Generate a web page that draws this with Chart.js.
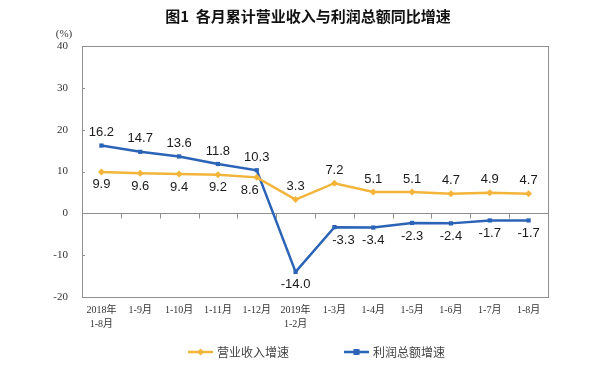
<!DOCTYPE html>
<html>
<head>
<meta charset="utf-8">
<script src="https://cdn.jsdelivr.net/npm/chart.js@4/dist/chart.umd.min.js"></script>
<style>
html,body{margin:0;padding:0;background:#fff;}
#wrap{width:600px;height:381px;}
</style>
</head>
<body>
<div id="wrap"><canvas id="c" width="600" height="381"></canvas></div>
<script>
// ---- data ----
const categories = [["2018年","1-8月"],"1-9月","1-10月","1-11月","1-12月",["2019年","1-2月"],"1-3月","1-4月","1-5月","1-6月","1-7月","1-8月"];
const revenueGrowth = [9.9, 9.6, 9.4, 9.2, 8.6, 3.3, 7.2, 5.1, 5.1, 4.7, 4.9, 4.7];
const profitGrowth  = [16.2, 14.7, 13.6, 11.8, 10.3, -14.0, -3.3, -3.4, -2.3, -2.4, -1.7, -1.7];
const seriesNames = ["营业收入增速", "利润总额增速"];
const yTicks = [-20, -10, 0, 10, 20, 30, 40];
const titleText = "图1  各月累计营业收入与利润总额同比增速";
const unitText = "(%)";

// style: small horizontal nudges of a few value labels (dataset-index: px)
const labelNudge = {"0-4": -7, "1-6": 9};

const ORANGE = "#F3B43A";
const BLUE = "#2B63B6";
const AXIS = "#8f8f8f";
const TXT = "#333333";

// frame, inner ticks, unit label
const framePlugin = {
  id: "framePlugin",
  afterDraw(chart) {
    const {ctx, chartArea: a, scales} = chart;
    ctx.save();
    ctx.strokeStyle = AXIS;
    ctx.lineWidth = 1;
    ctx.beginPath();
    ctx.moveTo(a.left, a.top + 0.5);
    ctx.lineTo(a.right, a.top + 0.5);
    // y ticks pointing inward
    yTicks.forEach(v => {
      if (v === yTicks[0] || v === yTicks[yTicks.length - 1]) return;
      const y = Math.round(scales.y.getPixelForValue(v)) + 0.5;
      ctx.moveTo(a.left, y);
      ctx.lineTo(a.left + 3, y);
    });
    // ticks on zero line at category boundaries
    const xs = scales.x, y0 = Math.round(scales.y.getPixelForValue(0)) + 0.5;
    const half = (xs.getPixelForValue(1) - xs.getPixelForValue(0)) / 2;
    for (let i = 1; i < categories.length; i++) {
      const x = Math.round(xs.getPixelForValue(i) - half) + 0.5;
      ctx.moveTo(x, y0);
      ctx.lineTo(x, y0 + 5);
    }
    ctx.stroke();
    // unit
    ctx.fillStyle = TXT;
    ctx.font = "11px 'Liberation Serif','Noto Sans CJK SC'";
    ctx.textAlign = "center";
    ctx.textBaseline = "middle";
    ctx.fillText(unitText, a.left - 18, a.top - 12);
    ctx.restore();
  }
};

// value labels
const labelPlugin = {
  id: "labelPlugin",
  afterDatasetsDraw(chart) {
    const {ctx} = chart;
    ctx.save();
    ctx.font = "13px 'Liberation Sans', Arial, sans-serif";
    ctx.fillStyle = "#1a1a1a";
    ctx.textAlign = "center";
    ctx.textBaseline = "middle";
    chart.data.datasets.forEach((ds, di) => {
      const other = chart.data.datasets[1 - di].data;
      const meta = chart.getDatasetMeta(di);
      meta.data.forEach((pt, i) => {
        const v = ds.data[i];
        const above = v >= other[i];
        const y = pt.y + (above ? -13 : 13);
        const dx = labelNudge[di + "-" + i] || 0;
        ctx.fillText(v.toFixed(1), pt.x + dx, y);
      });
    });
    ctx.restore();
  }
};

// legend drawn with the datasets' own styles
const legendPlugin = {
  id: "legendPlugin",
  afterDraw(chart) {
    const {ctx} = chart;
    const starts = [188, 344];
    const yc = 352;
    ctx.save();
    ctx.font = "12px 'Noto Sans CJK SC', sans-serif";
    ctx.textBaseline = "middle";
    ctx.textAlign = "left";
    chart.data.datasets.forEach((ds, i) => {
      const x0 = starts[i];
      ctx.strokeStyle = ds.borderColor;
      ctx.lineWidth = 2.5;
      ctx.beginPath();
      ctx.moveTo(x0, yc);
      ctx.lineTo(x0 + 25, yc);
      ctx.stroke();
      ctx.fillStyle = ds.borderColor;
      const cx = x0 + 12.5;
      ctx.beginPath();
      if (ds.pointStyle === "rectRot") {
        ctx.moveTo(cx, yc - 3.5); ctx.lineTo(cx + 3.5, yc); ctx.lineTo(cx, yc + 3.5); ctx.lineTo(cx - 3.5, yc);
      } else {
        ctx.rect(cx - 3, yc - 3, 6, 6);
      }
      ctx.closePath();
      ctx.fill();
      ctx.fillStyle = "#444";
      ctx.fillText(ds.label, x0 + 29, yc);
    });
    ctx.restore();
  }
};

new Chart(document.getElementById("c"), {
  type: "line",
  data: {
    labels: categories,
    datasets: [
      {
        label: seriesNames[0], data: revenueGrowth,
        borderColor: ORANGE, backgroundColor: ORANGE, borderWidth: 2.5,
        pointStyle: "rectRot", pointRadius: 3.5, pointBorderWidth: 0, tension: 0
      },
      {
        label: seriesNames[1], data: profitGrowth,
        borderColor: BLUE, backgroundColor: BLUE, borderWidth: 2.5,
        pointStyle: "rect", pointRadius: 3, pointBorderWidth: 0, tension: 0
      }
    ]
  },
  options: {
    responsive: false,
    animation: false,
    devicePixelRatio: 1,
    layout: {padding: {left: 16, right: 0, top: 0, bottom: 44}},
    plugins: {
      legend: {display: false},
      tooltip: {enabled: false},
      title: {
        display: true, text: titleText, color: "#111",
        font: {size: 15, weight: "bold", family: "'Noto Sans CJK SC', sans-serif"},
        padding: {top: 7, bottom: 21}
      }
    },
    scales: {
      x: {
        offset: true,
        grid: {display: false, drawTicks: false},
        border: {color: AXIS},
        ticks: {color: TXT, padding: 7, maxRotation: 0, autoSkip: false,
          font: {size: 10, family: "'Liberation Serif','Noto Sans CJK SC'", lineHeight: 1.35}},
        afterFit(s) { s.height = 40; }
      },
      y: {
        min: -20, max: 40,
        afterBuildTicks(s) { s.ticks = yTicks.map(v => ({value: v})); },
        grid: {
          color: c => (c.tick && c.tick.value === 0) ? AXIS : "rgba(0,0,0,0)",
          drawTicks: false
        },
        border: {color: AXIS},
        ticks: {color: TXT, padding: 14, font: {size: 11, family: "'Liberation Serif', serif"}},
        afterFit(s) { s.width = 66; }
      },
      yR: {
        position: "right", display: true,
        grid: {display: false, drawTicks: false},
        border: {display: true, color: AXIS},
        ticks: {display: false},
        afterFit(s) { s.width = 52; }
      }
    }
  },
  plugins: [framePlugin, labelPlugin, legendPlugin]
});
</script>
</body>
</html>
